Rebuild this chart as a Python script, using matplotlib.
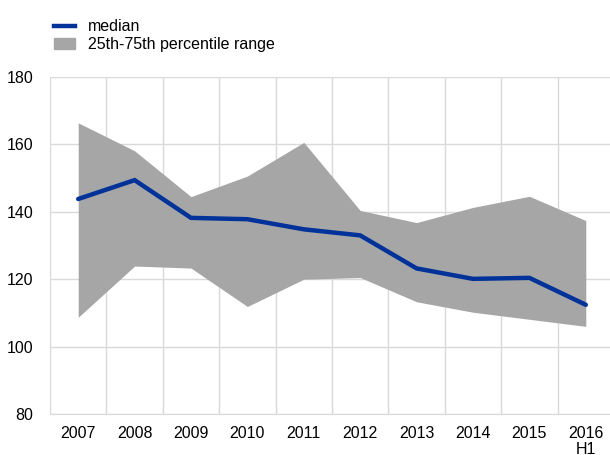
import numpy as np
import matplotlib.pyplot as plt
from matplotlib.lines import Line2D
from matplotlib.patches import Patch

plt.rcParams['font.family'] = ['Liberation Sans', 'DejaVu Sans']

years = ['2007', '2008', '2009', '2010', '2011', '2012', '2013', '2014', '2015', '2016\nH1']
median = [143.8, 149.4, 138.2, 137.8, 134.8, 133.0, 123.2, 120.1, 120.4, 112.4]
p25 = [108.7, 123.9, 123.3, 111.9, 120.0, 120.5, 113.3, 110.2, 108.1, 106.0]
p75 = [166.4, 158.1, 144.5, 150.6, 160.6, 140.4, 136.8, 141.3, 144.6, 137.4]

blue = '#003299'
grey = '#a6a6a6'
gridc = '#d9d9d9'

fig = plt.figure(figsize=(6.1, 4.55), dpi=100)
ax = fig.add_axes([50/610, 41/455, 564/610, 337/455])

x = np.arange(len(years))
ax.fill_between(x, p25, p75, color=grey, lw=0, zorder=2)
ax.plot(x, median, color=blue, lw=3.2, zorder=3, solid_capstyle='round', solid_joinstyle='miter')

ax.set_xlim(-0.5, len(years) - 0.5)
ax.set_ylim(80, 180)
ax.set_yticks(np.arange(80, 181, 20))
ax.set_xticks(x)
ax.set_xticklabels(years, linespacing=1.0)
ax.set_xticks(np.arange(-0.5, len(years), 1), minor=True)
ax.grid(True, which='minor', axis='x', color=gridc, lw=1, zorder=0)
ax.grid(True, which='major', axis='y', color=gridc, lw=1, zorder=0)
ax.tick_params(which='both', length=0, labelsize=11.5, colors='black')
ax.tick_params(axis='y', pad=12)
ax.tick_params(axis='x', pad=9)
for s in ['top', 'right', 'left']:
    ax.spines[s].set_visible(False)
ax.spines['bottom'].set_color(gridc)

handles = [Line2D([0], [0], color=blue, lw=3.2), Patch(color=grey)]
fig.legend(handles, ['median', '25th-75th percentile range'], loc='upper left',
           bbox_to_anchor=(0.078, 0.972), frameon=False, fontsize=11.5,
           handlelength=1.3, handletextpad=0.8, labelspacing=0.2, borderaxespad=0)

fig.savefig('out.png', dpi=100)
